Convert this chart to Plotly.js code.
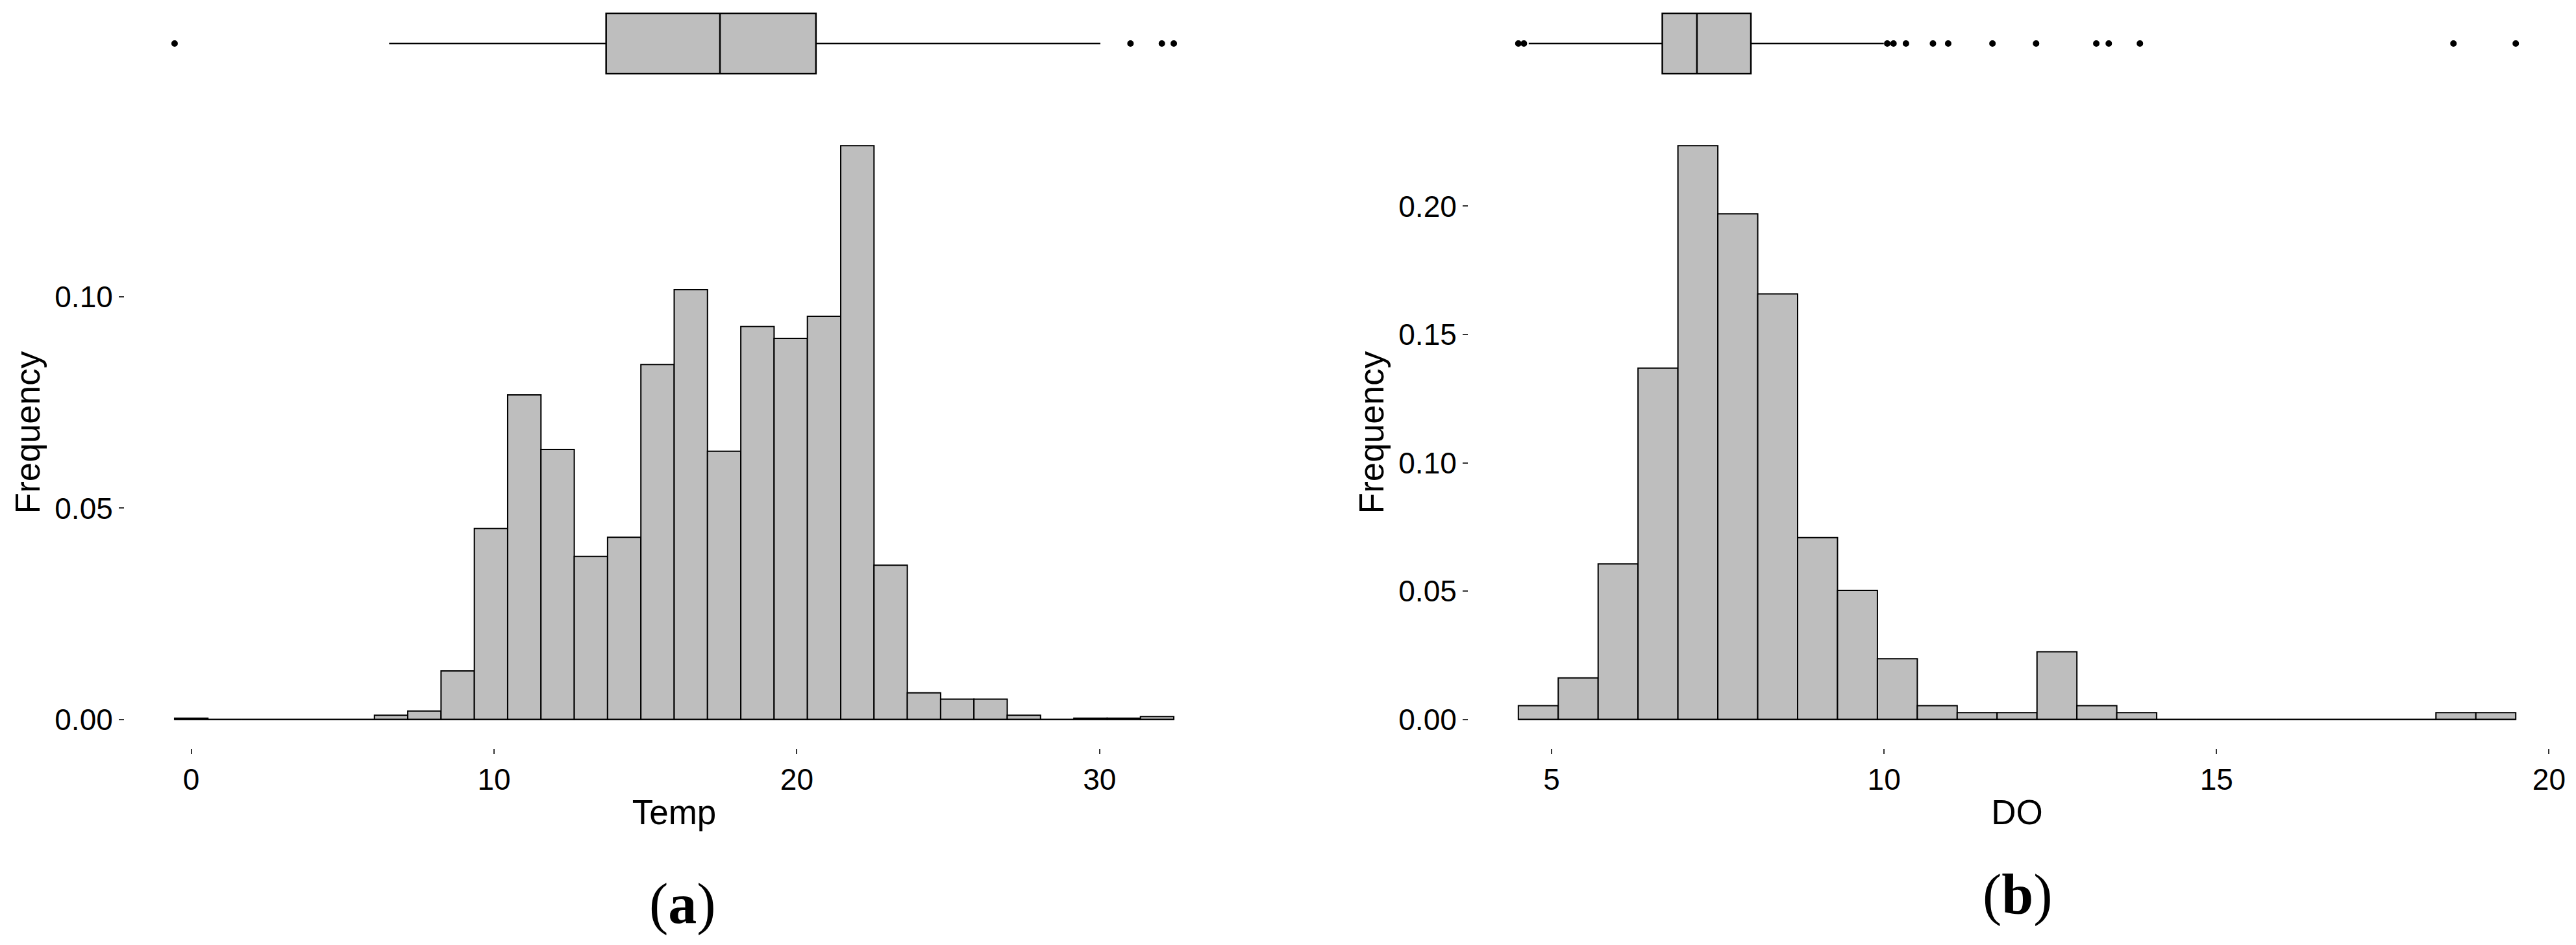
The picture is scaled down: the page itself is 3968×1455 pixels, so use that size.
<!DOCTYPE html>
<html>
<head>
<meta charset="utf-8">
<script src="https://cdn.plot.ly/plotly-3.0.1.min.js"></script>
<style>
  html, body { margin: 0; padding: 0; background: #fff; }
  #graph { width: 3968px; height: 1455px; }
</style>
</head>
<body>
<div id="graph"></div>
<script>
// (a) Temp histogram: bin centres and relative frequencies
const tempBins = [0.0, 1.1, 2.2, 3.3, 4.4, 5.5, 6.6, 7.7, 8.8, 9.9, 11.0, 12.1, 13.2, 14.3, 15.4,
                  16.5, 17.6, 18.7, 19.8, 20.9, 22.0, 23.1, 24.2, 25.3, 26.4, 27.5, 28.6, 29.7, 30.8, 31.9];
const tempFreq = [0.0003, 0, 0, 0, 0, 0, 0.0010, 0.0020, 0.0115, 0.0452, 0.0768, 0.0639, 0.0386, 0.0431, 0.0840,
                  0.1017, 0.0635, 0.0930, 0.0902, 0.0954, 0.1358, 0.0365, 0.0063, 0.0048, 0.0048, 0.0010, 0, 0.0003, 0.0003, 0.0007];
// lower whisker, Q1, median, Q3, upper whisker
const tempStats = [6.84, 13.76, 17.39, 20.45, 29.52];
const tempOutliers = [0.0, 30.48, 31.48, 31.86];

// (b) DO histogram
const doBins = [4.8, 5.4, 6.0, 6.6, 7.2, 7.8, 8.4, 9.0, 9.6, 10.2, 10.8, 11.4, 12.0, 12.6, 13.2,
                13.8, 14.4, 15.0, 15.6, 16.2, 16.8, 17.4, 18.0, 18.6, 19.2];
const doFreq = [0.0054, 0.0162, 0.0606, 0.1369, 0.2236, 0.1970, 0.1658, 0.0709, 0.0503, 0.0237, 0.0054, 0.0027, 0.0027,
                0.0264, 0.0054, 0.0027, 0, 0, 0, 0, 0, 0, 0, 0.0027, 0.0027];
const doStats = [4.95, 6.88, 7.38, 8.16, 10.08];
const doOutliers = [4.80, 4.88, 10.13, 10.22, 10.40, 10.79, 11.01, 11.65, 12.28, 13.15, 13.33, 13.78, 18.31, 19.21];

const W = 3968, H = 1455;
const px = v => v / W;
const py = v => 1 - v / H;

const FILL = '#BEBEBE';
const FONT = 'Liberation Sans, Arial, sans-serif';

function binWidth(bins) { return bins[1] - bins[0]; }

function histRange(bins) {
    const w = binWidth(bins);
    const lo = bins[0] - w / 2, hi = bins[bins.length - 1] + w / 2;
    const pad = (hi - lo) * 0.05;
    return [lo - pad, hi + pad];
}

function boxRange(stats, outliers) {
    const all = stats.concat(outliers);
    const lo = Math.min(...all), hi = Math.max(...all);
    const pad = (hi - lo) * 0.05;
    return [lo - pad, hi + pad];
}

function freqRange(freq) {
    const m = Math.max(...freq);
    return [-0.05 * m, 1.05 * m];
}

function panelTraces(bins, freq, stats, outliers, xh, yh, xb, yb) {
    const w = binWidth(bins);
    return [
        {
            type: 'bar', x: bins, y: freq, width: w, xaxis: xh, yaxis: yh,
            marker: { color: FILL, line: { color: '#000', width: 2 } },
            hoverinfo: 'x+y'
        },
        {
            // baseline under empty bins
            type: 'scatter', mode: 'lines', xaxis: xh, yaxis: yh,
            x: [bins[0] - w / 2, bins[bins.length - 1] + w / 2], y: [0, 0],
            line: { color: '#000', width: 2 }, hoverinfo: 'skip'
        },
        {
            type: 'box', orientation: 'h', xaxis: xb, yaxis: yb,
            y: [0],
            lowerfence: [stats[0]], q1: [stats[1]], median: [stats[2]], q3: [stats[3]], upperfence: [stats[4]],
            width: 0.69, whiskerwidth: 0, boxpoints: false,
            fillcolor: FILL, line: { color: '#000', width: 2.5 }
        },
        {
            type: 'scatter', mode: 'markers', xaxis: xb, yaxis: yb,
            x: outliers, y: outliers.map(() => 0),
            marker: { color: '#000', size: 10 }
        }
    ];
}

const data = []
    .concat(panelTraces(tempBins, tempFreq, tempStats, tempOutliers, 'x', 'y', 'x2', 'y2'))
    .concat(panelTraces(doBins, doFreq, doStats, doOutliers, 'x3', 'y3', 'x4', 'y4'));

const histY = [py(1152), py(180)];
const boxY = [py(134), 1];
const domA = [px(192), px(1885)];
const domB = [px(2262), px(3952)];

function xAxis(domain, anchor, range, dtick, titleText) {
    return {
        domain: domain, anchor: anchor, range: range, dtick: dtick, tick0: 0,
        showgrid: false, zeroline: false, showline: false,
        ticks: 'outside', ticklen: 8, tickwidth: 2, tickcolor: '#333333',
        tickfont: { family: FONT, size: 46, color: '#000' },
        title: { text: titleText, font: { family: FONT, size: 53, color: '#000' }, standoff: 6 }
    };
}

function yAxis(domain, anchor, range) {
    return {
        domain: domain, anchor: anchor, range: range, dtick: 0.05, tick0: 0, tickformat: '.2f',
        showgrid: false, zeroline: false, showline: false,
        ticks: 'outside', ticklen: 8, tickwidth: 2, tickcolor: '#333333',
        tickfont: { family: FONT, size: 46, color: '#000' },
        title: { text: 'Frequency', font: { family: FONT, size: 53, color: '#000' }, standoff: 5 }
    };
}

function hidden(domain, anchor, range) {
    return { domain: domain, anchor: anchor, range: range, visible: false, fixedrange: true };
}

const layout = {
    width: W, height: H,
    margin: { l: 0, r: 0, t: 0, b: 0 },
    paper_bgcolor: '#fff', plot_bgcolor: '#fff',
    showlegend: false,
    bargap: 0,
    xaxis: xAxis(domA, 'y', histRange(tempBins), 10, 'Temp'),
    yaxis: yAxis(histY, 'x', freqRange(tempFreq)),
    xaxis2: hidden(domA, 'y2', boxRange(tempStats, tempOutliers)),
    yaxis2: hidden(boxY, 'x2', [-0.5, 0.5]),
    xaxis3: xAxis(domB, 'y3', histRange(doBins), 5, 'DO'),
    yaxis3: yAxis(histY, 'x3', freqRange(doFreq)),
    xaxis4: hidden(domB, 'y4', boxRange(doStats, doOutliers)),
    yaxis4: hidden(boxY, 'x4', [-0.5, 0.5]),
    annotations: [
        { text: '(<b>a</b>)', xref: 'paper', yref: 'paper', x: px(1051), y: py(1391),
          xanchor: 'center', yanchor: 'middle', showarrow: false,
          font: { family: 'Liberation Serif, Times New Roman, serif', size: 88, color: '#000' } },
        { text: '(<b>b</b>)', xref: 'paper', yref: 'paper', x: px(3108), y: py(1377),
          xanchor: 'center', yanchor: 'middle', showarrow: false,
          font: { family: 'Liberation Serif, Times New Roman, serif', size: 88, color: '#000' } }
    ]
};

Plotly.newPlot('graph', data, layout, { staticPlot: true, responsive: false });
</script>
</body>
</html>
